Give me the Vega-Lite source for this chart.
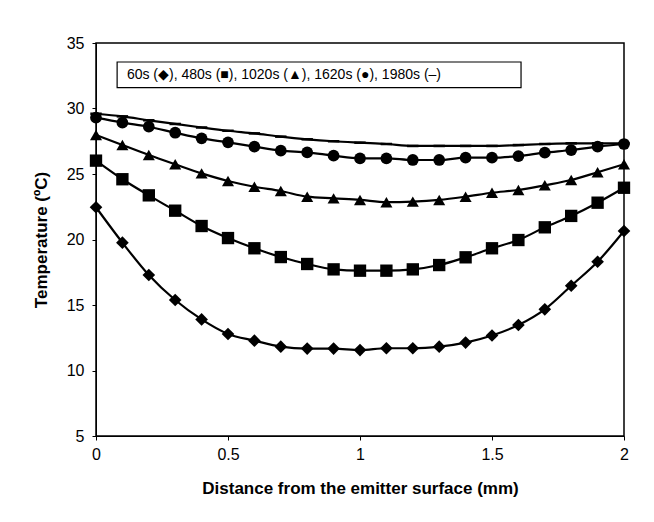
{
  "$schema": "https://vega.github.io/schema/vega-lite/v6.json",
  "width": 528,
  "height": 393,
  "autosize": {"type": "none"},
  "padding": {"left": 96, "top": 43, "right": 30, "bottom": 86},
  "background": "white",
  "config": {
    "font": "Liberation Sans",
    "view": {"stroke": "black", "strokeWidth": 1.5},
    "axis": {"grid": false, "domainColor": "black", "tickColor": "black", "labelColor": "black", "titleColor": "black", "labelFontSize": 16, "titleFontSize": 17, "titleFontWeight": "bold", "tickSize": 4, "labelFont": "Liberation Sans", "titleFont": "Liberation Sans", "labelFlush": false}
  },
  "datasets": {
    "curves": [
      {"d": 0, "temp": 22.46, "series": "60s"}, {"d": 0.1, "temp": 19.76, "series": "60s"}, {"d": 0.2, "temp": 17.29, "series": "60s"}, {"d": 0.3, "temp": 15.38, "series": "60s"}, {"d": 0.4, "temp": 13.9, "series": "60s"}, {"d": 0.5, "temp": 12.79, "series": "60s"}, {"d": 0.6, "temp": 12.28, "series": "60s"}, {"d": 0.7, "temp": 11.82, "series": "60s"}, {"d": 0.8, "temp": 11.67, "series": "60s"}, {"d": 0.9, "temp": 11.67, "series": "60s"}, {"d": 1.0, "temp": 11.56, "series": "60s"}, {"d": 1.1, "temp": 11.7, "series": "60s"}, {"d": 1.2, "temp": 11.7, "series": "60s"}, {"d": 1.3, "temp": 11.82, "series": "60s"}, {"d": 1.4, "temp": 12.13, "series": "60s"}, {"d": 1.5, "temp": 12.67, "series": "60s"}, {"d": 1.6, "temp": 13.47, "series": "60s"}, {"d": 1.7, "temp": 14.67, "series": "60s"}, {"d": 1.8, "temp": 16.47, "series": "60s"}, {"d": 1.9, "temp": 18.3, "series": "60s"}, {"d": 2.0, "temp": 20.65, "series": "60s"},
      {"d": 0, "temp": 26.02, "series": "480s"}, {"d": 0.1, "temp": 24.6, "series": "480s"}, {"d": 0.2, "temp": 23.37, "series": "480s"}, {"d": 0.3, "temp": 22.2, "series": "480s"}, {"d": 0.4, "temp": 21.03, "series": "480s"}, {"d": 0.5, "temp": 20.11, "series": "480s"}, {"d": 0.6, "temp": 19.33, "series": "480s"}, {"d": 0.7, "temp": 18.66, "series": "480s"}, {"d": 0.8, "temp": 18.13, "series": "480s"}, {"d": 0.9, "temp": 17.72, "series": "480s"}, {"d": 1.0, "temp": 17.62, "series": "480s"}, {"d": 1.1, "temp": 17.62, "series": "480s"}, {"d": 1.2, "temp": 17.72, "series": "480s"}, {"d": 1.3, "temp": 18.05, "series": "480s"}, {"d": 1.4, "temp": 18.64, "series": "480s"}, {"d": 1.5, "temp": 19.33, "series": "480s"}, {"d": 1.6, "temp": 19.96, "series": "480s"}, {"d": 1.7, "temp": 20.93, "series": "480s"}, {"d": 1.8, "temp": 21.8, "series": "480s"}, {"d": 1.9, "temp": 22.81, "series": "480s"}, {"d": 2.0, "temp": 23.95, "series": "480s"},
      {"d": 0, "temp": 27.98, "series": "1020s"}, {"d": 0.1, "temp": 27.21, "series": "1020s"}, {"d": 0.2, "temp": 26.45, "series": "1020s"}, {"d": 0.3, "temp": 25.74, "series": "1020s"}, {"d": 0.4, "temp": 25.05, "series": "1020s"}, {"d": 0.5, "temp": 24.47, "series": "1020s"}, {"d": 0.6, "temp": 24.03, "series": "1020s"}, {"d": 0.7, "temp": 23.7, "series": "1020s"}, {"d": 0.8, "temp": 23.27, "series": "1020s"}, {"d": 0.9, "temp": 23.14, "series": "1020s"}, {"d": 1.0, "temp": 23.02, "series": "1020s"}, {"d": 1.1, "temp": 22.85, "series": "1020s"}, {"d": 1.2, "temp": 22.89, "series": "1020s"}, {"d": 1.3, "temp": 23.02, "series": "1020s"}, {"d": 1.4, "temp": 23.27, "series": "1020s"}, {"d": 1.5, "temp": 23.57, "series": "1020s"}, {"d": 1.6, "temp": 23.78, "series": "1020s"}, {"d": 1.7, "temp": 24.14, "series": "1020s"}, {"d": 1.8, "temp": 24.54, "series": "1020s"}, {"d": 1.9, "temp": 25.13, "series": "1020s"}, {"d": 2.0, "temp": 25.74, "series": "1020s"},
      {"d": 0, "temp": 29.3, "series": "1620s"}, {"d": 0.1, "temp": 28.92, "series": "1620s"}, {"d": 0.2, "temp": 28.61, "series": "1620s"}, {"d": 0.3, "temp": 28.15, "series": "1620s"}, {"d": 0.4, "temp": 27.72, "series": "1620s"}, {"d": 0.5, "temp": 27.42, "series": "1620s"}, {"d": 0.6, "temp": 27.09, "series": "1620s"}, {"d": 0.7, "temp": 26.78, "series": "1620s"}, {"d": 0.8, "temp": 26.65, "series": "1620s"}, {"d": 0.9, "temp": 26.4, "series": "1620s"}, {"d": 1.0, "temp": 26.2, "series": "1620s"}, {"d": 1.1, "temp": 26.2, "series": "1620s"}, {"d": 1.2, "temp": 26.07, "series": "1620s"}, {"d": 1.3, "temp": 26.07, "series": "1620s"}, {"d": 1.4, "temp": 26.25, "series": "1620s"}, {"d": 1.5, "temp": 26.25, "series": "1620s"}, {"d": 1.6, "temp": 26.37, "series": "1620s"}, {"d": 1.7, "temp": 26.63, "series": "1620s"}, {"d": 1.8, "temp": 26.83, "series": "1620s"}, {"d": 1.9, "temp": 27.09, "series": "1620s"}, {"d": 2.0, "temp": 27.29, "series": "1620s"},
      {"d": 0, "temp": 29.6, "series": "1980s"}, {"d": 0.1, "temp": 29.4, "series": "1980s"}, {"d": 0.2, "temp": 29.1, "series": "1980s"}, {"d": 0.3, "temp": 28.82, "series": "1980s"}, {"d": 0.4, "temp": 28.55, "series": "1980s"}, {"d": 0.5, "temp": 28.3, "series": "1980s"}, {"d": 0.6, "temp": 28.1, "series": "1980s"}, {"d": 0.7, "temp": 27.85, "series": "1980s"}, {"d": 0.8, "temp": 27.65, "series": "1980s"}, {"d": 0.9, "temp": 27.5, "series": "1980s"}, {"d": 1.0, "temp": 27.39, "series": "1980s"}, {"d": 1.1, "temp": 27.29, "series": "1980s"}, {"d": 1.2, "temp": 27.14, "series": "1980s"}, {"d": 1.3, "temp": 27.14, "series": "1980s"}, {"d": 1.4, "temp": 27.14, "series": "1980s"}, {"d": 1.5, "temp": 27.14, "series": "1980s"}, {"d": 1.6, "temp": 27.21, "series": "1980s"}, {"d": 1.7, "temp": 27.29, "series": "1980s"}, {"d": 1.8, "temp": 27.34, "series": "1980s"}, {"d": 1.9, "temp": 27.34, "series": "1980s"}, {"d": 2.0, "temp": 27.34, "series": "1980s"}
    ],
    "note": [
      {"x1": 0.08, "x2": 1.61, "y1": 33.55, "y2": 31.6, "tx": 0.117, "ty": 32.57, "label": "60s (◆), 480s (■), 1020s (▲), 1620s (●), 1980s (–)"}
    ]
  },
  "layer": [
    {
      "data": {"name": "curves"},
      "mark": {"type": "line", "interpolate": "monotone", "color": "black", "strokeWidth": 2.2},
      "encoding": {
        "x": {"field": "d", "type": "quantitative", "scale": {"domain": [0, 2], "nice": false}, "axis": {"values": [0, 0.5, 1, 1.5, 2], "format": "~g", "title": "Distance from the emitter surface (mm)", "labelPadding": 6, "titlePadding": 18}},
        "y": {"field": "temp", "type": "quantitative", "scale": {"domain": [5, 35], "nice": false, "zero": false}, "axis": {"values": [5, 10, 15, 20, 25, 30, 35], "title": "Temperature (ºC)", "labelPadding": 8, "titlePadding": 16}},
        "detail": {"field": "series"}
      }
    },
    {
      "data": {"name": "curves"},
      "mark": {"type": "point", "filled": true, "color": "black", "opacity": 1},
      "encoding": {
        "x": {"field": "d", "type": "quantitative"},
        "y": {"field": "temp", "type": "quantitative"},
        "shape": {"field": "series", "type": "nominal", "scale": {"domain": ["60s", "480s", "1020s", "1620s", "1980s"], "range": ["diamond", "square", "triangle-up", "circle", "M-1,-0.22H1V0.22H-1Z"]}, "legend": null},
        "size": {"field": "series", "type": "nominal", "scale": {"domain": ["60s", "480s", "1020s", "1620s", "1980s"], "range": [160, 130, 160, 130, 60]}, "legend": null}
      }
    },
    {
      "data": {"name": "note"},
      "mark": {"type": "rect", "fill": "white", "stroke": "black", "strokeWidth": 1.2},
      "encoding": {
        "x": {"field": "x1", "type": "quantitative"},
        "x2": {"field": "x2"},
        "y": {"field": "y1", "type": "quantitative"},
        "y2": {"field": "y2"}
      }
    },
    {
      "data": {"name": "note"},
      "mark": {"type": "text", "align": "left", "baseline": "middle", "fontSize": 14, "font": "Liberation Sans", "color": "black"},
      "encoding": {
        "x": {"field": "tx", "type": "quantitative"},
        "y": {"field": "ty", "type": "quantitative"},
        "text": {"field": "label"}
      }
    }
  ]
}
